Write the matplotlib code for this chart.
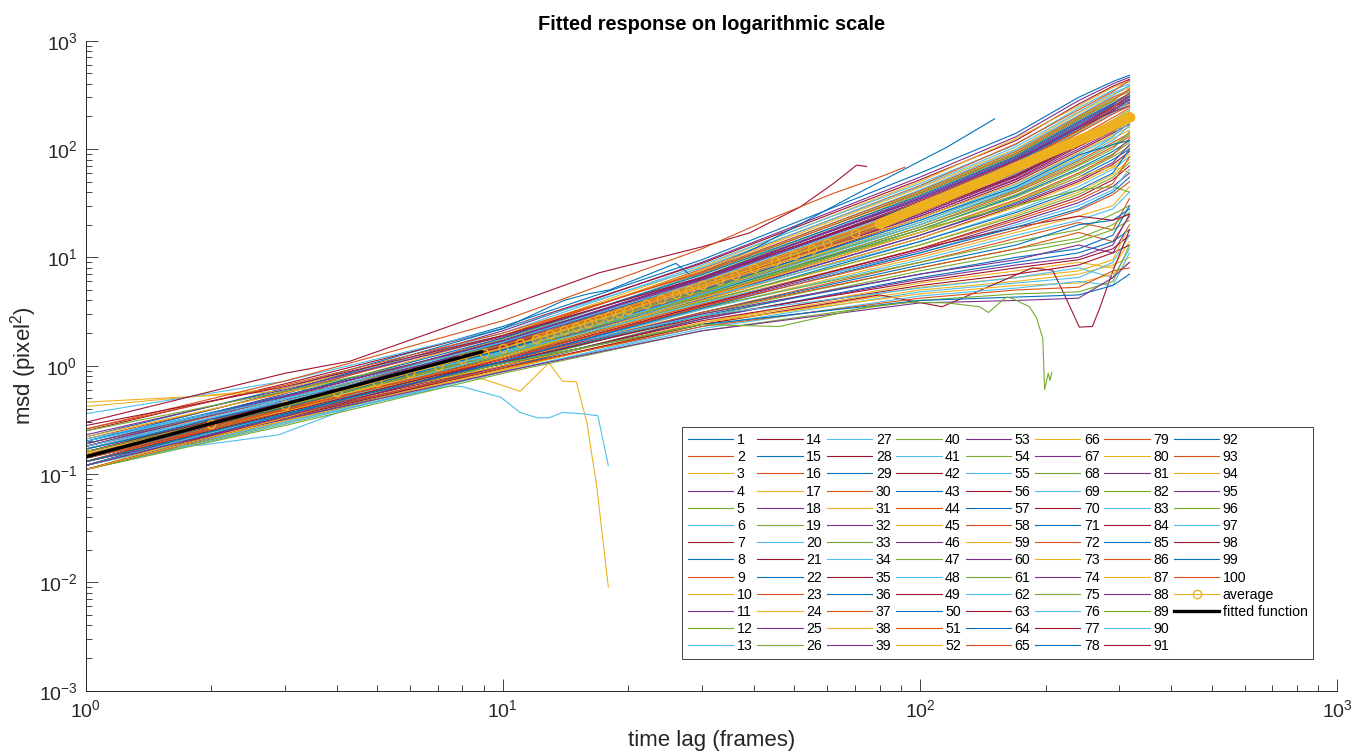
import matplotlib
matplotlib.use('Agg')
import matplotlib.pyplot as plt
from matplotlib.lines import Line2D
from matplotlib.ticker import LogLocator, NullFormatter
import numpy as np

plt.rcParams['font.family'] = ['Liberation Sans', 'DejaVu Sans']

lag = [1, 3, 10, 30, 100, 170, 240, 290, 318]

# msd (pixel^2) of the 100 tracks, one row per track
msd_rows = [
    [0.22, 0.62, 2.3, 9.5, 60, 140, 300, 420, 480],
    [0.16, 0.46, 1.55, 5.6, 28, 64, 130, 195, 240],
    [0.12, 0.34, 1.05, 3.3, 10, 17, 24, 30, 45],
    [0.18, 0.55, 2.1, 9.0, 55, 130, 280, 400, 460],
    [0.12, 0.38, 1.45, 5.4, 27, 62, 125, 185, 230],
    [0.14, 0.38, 1.1, 3.3, 9.5, 16, 22, 28, 40],
    [0.25, 0.68, 2.2, 8.8, 52, 120, 260, 380, 440],
    [0.20, 0.53, 1.65, 5.7, 27, 60, 120, 180, 210],
    [0.11, 0.31, 1.0, 3.1, 9.0, 15, 21, 18, 35],
    [0.42, 0.62, 1.9, 8.2, 50, 125, 250, 370, 420],
    [0.13, 0.40, 1.45, 5.3, 26, 58, 115, 170, 220],
    [0.17, 0.44, 1.2, 3.4, 9.0, 14, 18, 25, 30],
    [0.20, 0.58, 2.0, 8.5, 48, 110, 240, 350, 400],
    [0.15, 0.44, 1.5, 5.3, 25, 56, 110, 165, 200],
    [0.13, 0.35, 1.05, 3.1, 8.5, 13, 20, 22, 28],
    [0.14, 0.46, 1.8, 7.8, 46, 112, 230, 340, 430],
    [0.46, 0.53, 0.63, 0.80, 0.77, 0.76, 0.58, 1.06, 0.72, 0.71, 0.30, 0.076, 0.0091],
    [0.11, 0.36, 1.35, 5.0, 25, 55, 108, 160, 190],
    [0.12, 0.33, 1.0, 3.0, 8.0, 12, 15, 20, 26],
    [0.36, 0.72, 2.2, 8.0, 45, 105, 220, 330, 380],
    [0.18, 0.50, 1.55, 5.4, 24, 53, 105, 150, 205],
    [0.20, 0.58, 2.2, 4.0, 4.6, 5.0, 8.8, 6.6, 12, 38, 104, 190],
    [0.15, 0.40, 1.1, 3.1, 8.0, 12, 17, 14, 24],
    [0.17, 0.52, 1.9, 7.6, 44, 100, 215, 320, 370],
    [0.14, 0.42, 1.45, 5.1, 24, 52, 100, 145, 180],
    [0.11, 0.30, 0.95, 2.8, 7.5, 11, 14, 18, 22],
    [0.13, 0.42, 1.7, 7.2, 42, 98, 205, 310, 390],
    [0.12, 0.38, 1.4, 4.9, 23, 50, 96, 140, 170],
    [0.14, 0.37, 1.05, 2.9, 7.0, 10, 12, 16, 30],
    [0.21, 0.57, 1.9, 7.4, 41, 95, 200, 300, 350],
    [0.22, 0.56, 1.6, 5.3, 23, 48, 92, 135, 160],
    [0.18, 0.46, 1.15, 3.0, 7.0, 9.5, 13, 11, 20],
    [0.15, 0.47, 1.75, 7.0, 40, 92, 195, 290, 340],
    [0.13, 0.39, 1.38, 4.8, 22, 47, 90, 130, 175],
    [0.30, 0.85, 1.1, 3.45, 7.2, 12.5, 16.8, 29, 48, 71, 69],
    [0.12, 0.32, 0.95, 2.7, 6.5, 9.0, 11, 14, 18],
    [0.26, 0.66, 2.0, 7.2, 39, 90, 190, 280, 360],
    [0.16, 0.45, 1.45, 4.9, 21, 45, 85, 125, 150],
    [0.13, 0.34, 0.98, 2.7, 6.3, 8.5, 10, 13, 25],
    [0.12, 0.40, 1.6, 6.6, 38, 88, 185, 275, 320],
    [0.11, 0.35, 1.3, 4.6, 21, 44, 82, 120, 165],
    [0.16, 0.41, 1.08, 2.8, 6.0, 8.0, 9.5, 12, 16],
    [0.19, 0.53, 1.8, 6.9, 37, 86, 180, 265, 310],
    [0.15, 0.43, 1.4, 4.7, 20, 42, 78, 115, 140],
    [0.11, 0.29, 0.9, 2.5, 5.8, 7.5, 9.0, 8.0, 14],
    [0.16, 0.48, 1.7, 6.5, 36, 84, 175, 260, 330],
    [0.19, 0.50, 1.5, 4.9, 20, 41, 75, 110, 135],
    [0.165, 0.185, 0.23, 0.42, 0.65, 0.64, 0.51, 0.37, 0.33, 0.33, 0.37, 0.36, 0.345, 0.12],
    [0.14, 0.36, 1.0, 2.6, 5.5, 7.0, 8.5, 11, 13],
    [0.14, 0.44, 1.65, 6.4, 35, 82, 170, 255, 300],
    [0.12, 0.37, 1.3, 4.5, 19, 40, 72, 105, 130],
    [0.12, 0.31, 0.92, 2.5, 5.3, 6.5, 7.5, 9.5, 20],
    [0.23, 0.60, 1.85, 6.6, 34, 80, 165, 250, 290],
    [0.14, 0.41, 1.35, 4.5, 19, 38, 70, 100, 145],
    [0.21, 0.50, 1.2, 2.9, 5.2, 6.5, 8.0, 6.5, 12],
    [0.13, 0.41, 1.6, 6.2, 33, 78, 160, 245, 280],
    [0.17, 0.46, 1.4, 4.6, 18, 37, 66, 95, 120],
    [0.26, 0.72, 2.6, 12, 22, 39, 55, 68],
    [0.13, 0.33, 0.92, 2.4, 5.0, 6.0, 7.0, 8.5, 10],
    [0.18, 0.51, 1.7, 6.3, 32, 76, 158, 240, 310],
    [0.11, 0.34, 1.25, 4.3, 18, 36, 64, 90, 115],
    [0.11, 0.29, 0.88, 2.3, 4.8, 5.8, 6.5, 9.0, 16],
    [0.12, 0.33, 0.95, 2.4, 4.5, 3.5, 8.0, 7.6, 4.2, 2.27, 2.3, 3.3, 7.2, 18],
    [0.12, 0.39, 1.55, 6.0, 32, 75, 155, 235, 270],
    [0.13, 0.38, 1.3, 4.3, 17, 34, 60, 88, 125],
    [0.15, 0.38, 1.0, 2.5, 4.6, 5.5, 5.8, 7.0, 9],
    [0.15, 0.46, 1.6, 6.1, 31, 73, 150, 230, 285],
    [0.25, 0.58, 1.55, 4.8, 17, 33, 58, 85, 105],
    [0.12, 0.30, 0.88, 2.2, 4.4, 5.2, 6.0, 5.5, 11],
    [0.28, 0.64, 1.9, 6.5, 31, 72, 148, 225, 265],
    [0.12, 0.36, 1.25, 4.1, 16, 32, 55, 80, 100],
    [0.14, 0.35, 0.95, 2.3, 4.2, 5.0, 5.3, 7.5, 8],
    [0.11, 0.37, 1.5, 5.8, 30, 70, 145, 220, 260],
    [0.15, 0.42, 1.3, 4.2, 16, 31, 52, 75, 110],
    [0.11, 0.28, 0.85, 2.1, 4.0, 4.6, 4.8, 6.0, 13],
    [0.17, 0.49, 1.65, 6.0, 30, 69, 142, 215, 275],
    [0.11, 0.33, 1.2, 4.0, 15, 30, 50, 72, 95],
    [0.17, 0.42, 1.05, 2.4, 4.0, 4.3, 4.5, 5.5, 7],
    [0.14, 0.43, 1.55, 5.8, 29, 68, 140, 210, 250],
    [0.14, 0.40, 1.25, 4.0, 15, 29, 48, 68, 90],
    [0.13, 0.32, 0.88, 2.1, 3.8, 4.0, 4.2, 6.5, 9],
    [0.13, 0.36, 1.05, 2.4, 2.3, 3.5, 3.85, 3.8, 3.5, 3.1, 4.3, 4.2, 3.5, 2.8, 1.8, 0.6, 0.85, 0.73, 0.87],
    [0.18, 0.47, 1.35, 4.2, 14, 27, 45, 65, 85],
    [0.16, 0.45, 1.5, 5.5, 26, 57, 112, 150, 180],
    [0.12, 0.35, 1.2, 3.8, 14, 26, 42, 60, 100],
    [0.13, 0.40, 1.45, 5.5, 29, 72, 150, 240, 330],
    [0.13, 0.37, 1.2, 3.8, 13, 25, 40, 58, 80],
    [0.19, 0.52, 1.7, 6.4, 35, 80, 160, 220, 250],
    [0.16, 0.43, 1.25, 3.9, 13, 24, 38, 55, 75],
    [0.12, 0.36, 1.3, 4.6, 20, 43, 80, 130, 200],
    [0.11, 0.33, 1.15, 3.6, 12, 23, 36, 52, 70],
    [0.14, 0.41, 1.4, 5.0, 22, 45, 88, 110, 120],
    [0.14, 0.39, 1.2, 3.7, 12, 22, 34, 48, 85],
    [0.11, 0.33, 1.2, 4.2, 17, 33, 55, 70, 60],
    [0.12, 0.34, 1.1, 3.5, 11.5, 21, 32, 45, 60],
    [0.15, 0.42, 1.3, 4.4, 18, 30, 42, 45, 40],
    [0.20, 0.50, 1.3, 3.8, 11, 20, 30, 42, 65],
    [0.13, 0.37, 1.15, 3.6, 12, 19, 24, 22, 25],
    [0.13, 0.36, 1.1, 3.4, 11, 19, 28, 40, 55],
    [0.15, 0.40, 1.15, 3.5, 10.5, 18, 27, 38, 50],
]

# tracks that were read at their own lags (short or irregular tracks)
own_lag = {
    17: [1, 2, 4, 6, 7.5, 8.9, 11, 12.9, 13.9, 15, 15.9, 16.8, 17.9],
    22: [1, 3, 10, 14, 16, 18, 26, 28.5, 40, 70, 116, 151],
    35: [1, 3, 4.3, 10, 17, 30, 39, 51.5, 62, 70.5, 74.5],
    48: [1, 1.9, 2.9, 4.4, 7.5, 8.0, 9.9, 11, 12.1, 12.9, 13.9, 15.5, 16.9, 17.9],
    58: [1, 3, 10, 30, 43, 62, 80, 92],
    63: [1, 3, 10, 30, 80, 113, 186, 208, 224, 241, 259, 269, 289, 318],
    82: [1, 3, 10, 30, 46, 75, 96, 116, 139, 146, 161, 166, 183, 190, 197,
         199, 203, 205, 207],
}

# average msd over all tracks
avg_lag = [1, 2, 3, 4, 5, 6, 7, 8, 9, 10, 11, 12, 13, 14, 15, 16, 17, 18, 19, 20,
           22, 24, 26, 28, 30, 33, 36, 40, 45, 50, 55, 60, 70, 80, 90, 100, 115,
           130, 150, 170, 190, 210, 230, 250, 270, 290, 305, 318]
avg_msd = [0.155, 0.29, 0.43, 0.57, 0.71, 0.86, 1.0, 1.15, 1.3, 1.45, 1.62, 1.78,
           1.95, 2.12, 2.3, 2.5, 2.68, 2.87, 3.07, 3.27, 3.7, 4.15, 4.6, 5.05, 5.5,
           6.2, 6.9, 7.9, 9.2, 10.6, 12, 13.5, 16.8, 20.3, 24.5, 29, 36, 44, 55,
           68, 82, 97, 112, 128, 145, 165, 182, 197]

# fitted power law, drawn over the fitting range
fit_lag = [1, 8.9]
fit_msd = [0.144, 1.34]

track_colors = ['#0072BD', '#D95319', '#EDB120', '#7E2F8E',
                '#77AC30', '#4DBEEE', '#A2142F']
axis_color = '#262626'

fig = plt.figure(figsize=(13.54, 7.54), dpi=100)
ax = fig.add_axes([0.0633, 0.084, 0.9242, 0.862])

handles = []
for i, row in enumerate(msd_rows, start=1):
    t = own_lag.get(i, lag)
    h, = ax.plot(t, row, color=track_colors[(i - 1) % 7], lw=0.8, label=str(i))
    handles.append(h)

# the average markers sit at every lag: a loose chain of circles at mid lags,
# merging into a solid band at long lags
avg_col = track_colors[2]
chain = [j for j, t in enumerate(avg_lag) if 12 <= t <= 90]
solid = [j for j, t in enumerate(avg_lag) if t >= 80]
ax.plot([avg_lag[j] for j in chain], [avg_msd[j] for j in chain],
        color=avg_col, lw=6, alpha=0.45, solid_capstyle='round')
ax.plot([avg_lag[j] for j in solid], [avg_msd[j] for j in solid],
        color=avg_col, lw=7.5, solid_capstyle='round')
h_avg, = ax.plot(avg_lag, avg_msd, 'o-', color=avg_col, mfc='none', ms=6,
                 mew=1.0, lw=0.8, label='average')
h_fit, = ax.plot(fit_lag, fit_msd, color='black', lw=2.4, label='fitted function')

ax.set_xscale('log')
ax.set_yscale('log')
ax.set_xlim(1, 1000)
ax.set_ylim(1e-3, 1e3)
ax.set_yticks([1e-3, 1e-2, 1e-1, 1e0, 1e1, 1e2, 1e3])
ax.set_xticks([1, 10, 100, 1000])
ax.xaxis.set_minor_locator(LogLocator(base=10, subs=np.arange(2, 10), numticks=100))
ax.yaxis.set_minor_locator(LogLocator(base=10, subs=np.arange(2, 10), numticks=100))
ax.xaxis.set_minor_formatter(NullFormatter())
ax.yaxis.set_minor_formatter(NullFormatter())

for s in ['top', 'right']:
    ax.spines[s].set_visible(False)
for s in ['left', 'bottom']:
    ax.spines[s].set_color(axis_color)
    ax.spines[s].set_linewidth(0.7)
ax.tick_params(which='both', direction='in', colors=axis_color, labelsize=14,
               width=0.6)
ax.tick_params(which='major', length=8.5, pad=6)
ax.tick_params(which='minor', length=4.3)

ax.set_title('Fitted response on logarithmic scale', fontsize=14.4,
             fontweight='bold', pad=8)
ax.set_xlabel('time lag (frames)', fontsize=16, color=axis_color, va='top')
ax.set_ylabel(r'msd (pixel$^{\mathdefault{2}}$)', fontsize=16, color=axis_color)
ax.xaxis.set_label_coords(0.5, -0.061)
ax.yaxis.set_label_coords(-0.037, 0.5)

blank = Line2D([], [], linestyle='none')
leg_handles = handles + [h_avg, h_fit, blank, blank]
leg_labels = [str(i) for i in range(1, 101)] + ['average', 'fitted function', '', '']
leg = ax.legend(leg_handles, leg_labels, ncol=8, loc='lower right',
                bbox_to_anchor=(0.981, 0.0488), borderaxespad=0, fontsize=10.2,
                handlelength=3.2, handletextpad=0.25, columnspacing=0.33,
                labelspacing=0.225, borderpad=0.4, fancybox=False, framealpha=1)
leg.get_frame().set_edgecolor(axis_color)
leg.get_frame().set_linewidth(0.6)

fig.savefig('out.png', dpi=100)
